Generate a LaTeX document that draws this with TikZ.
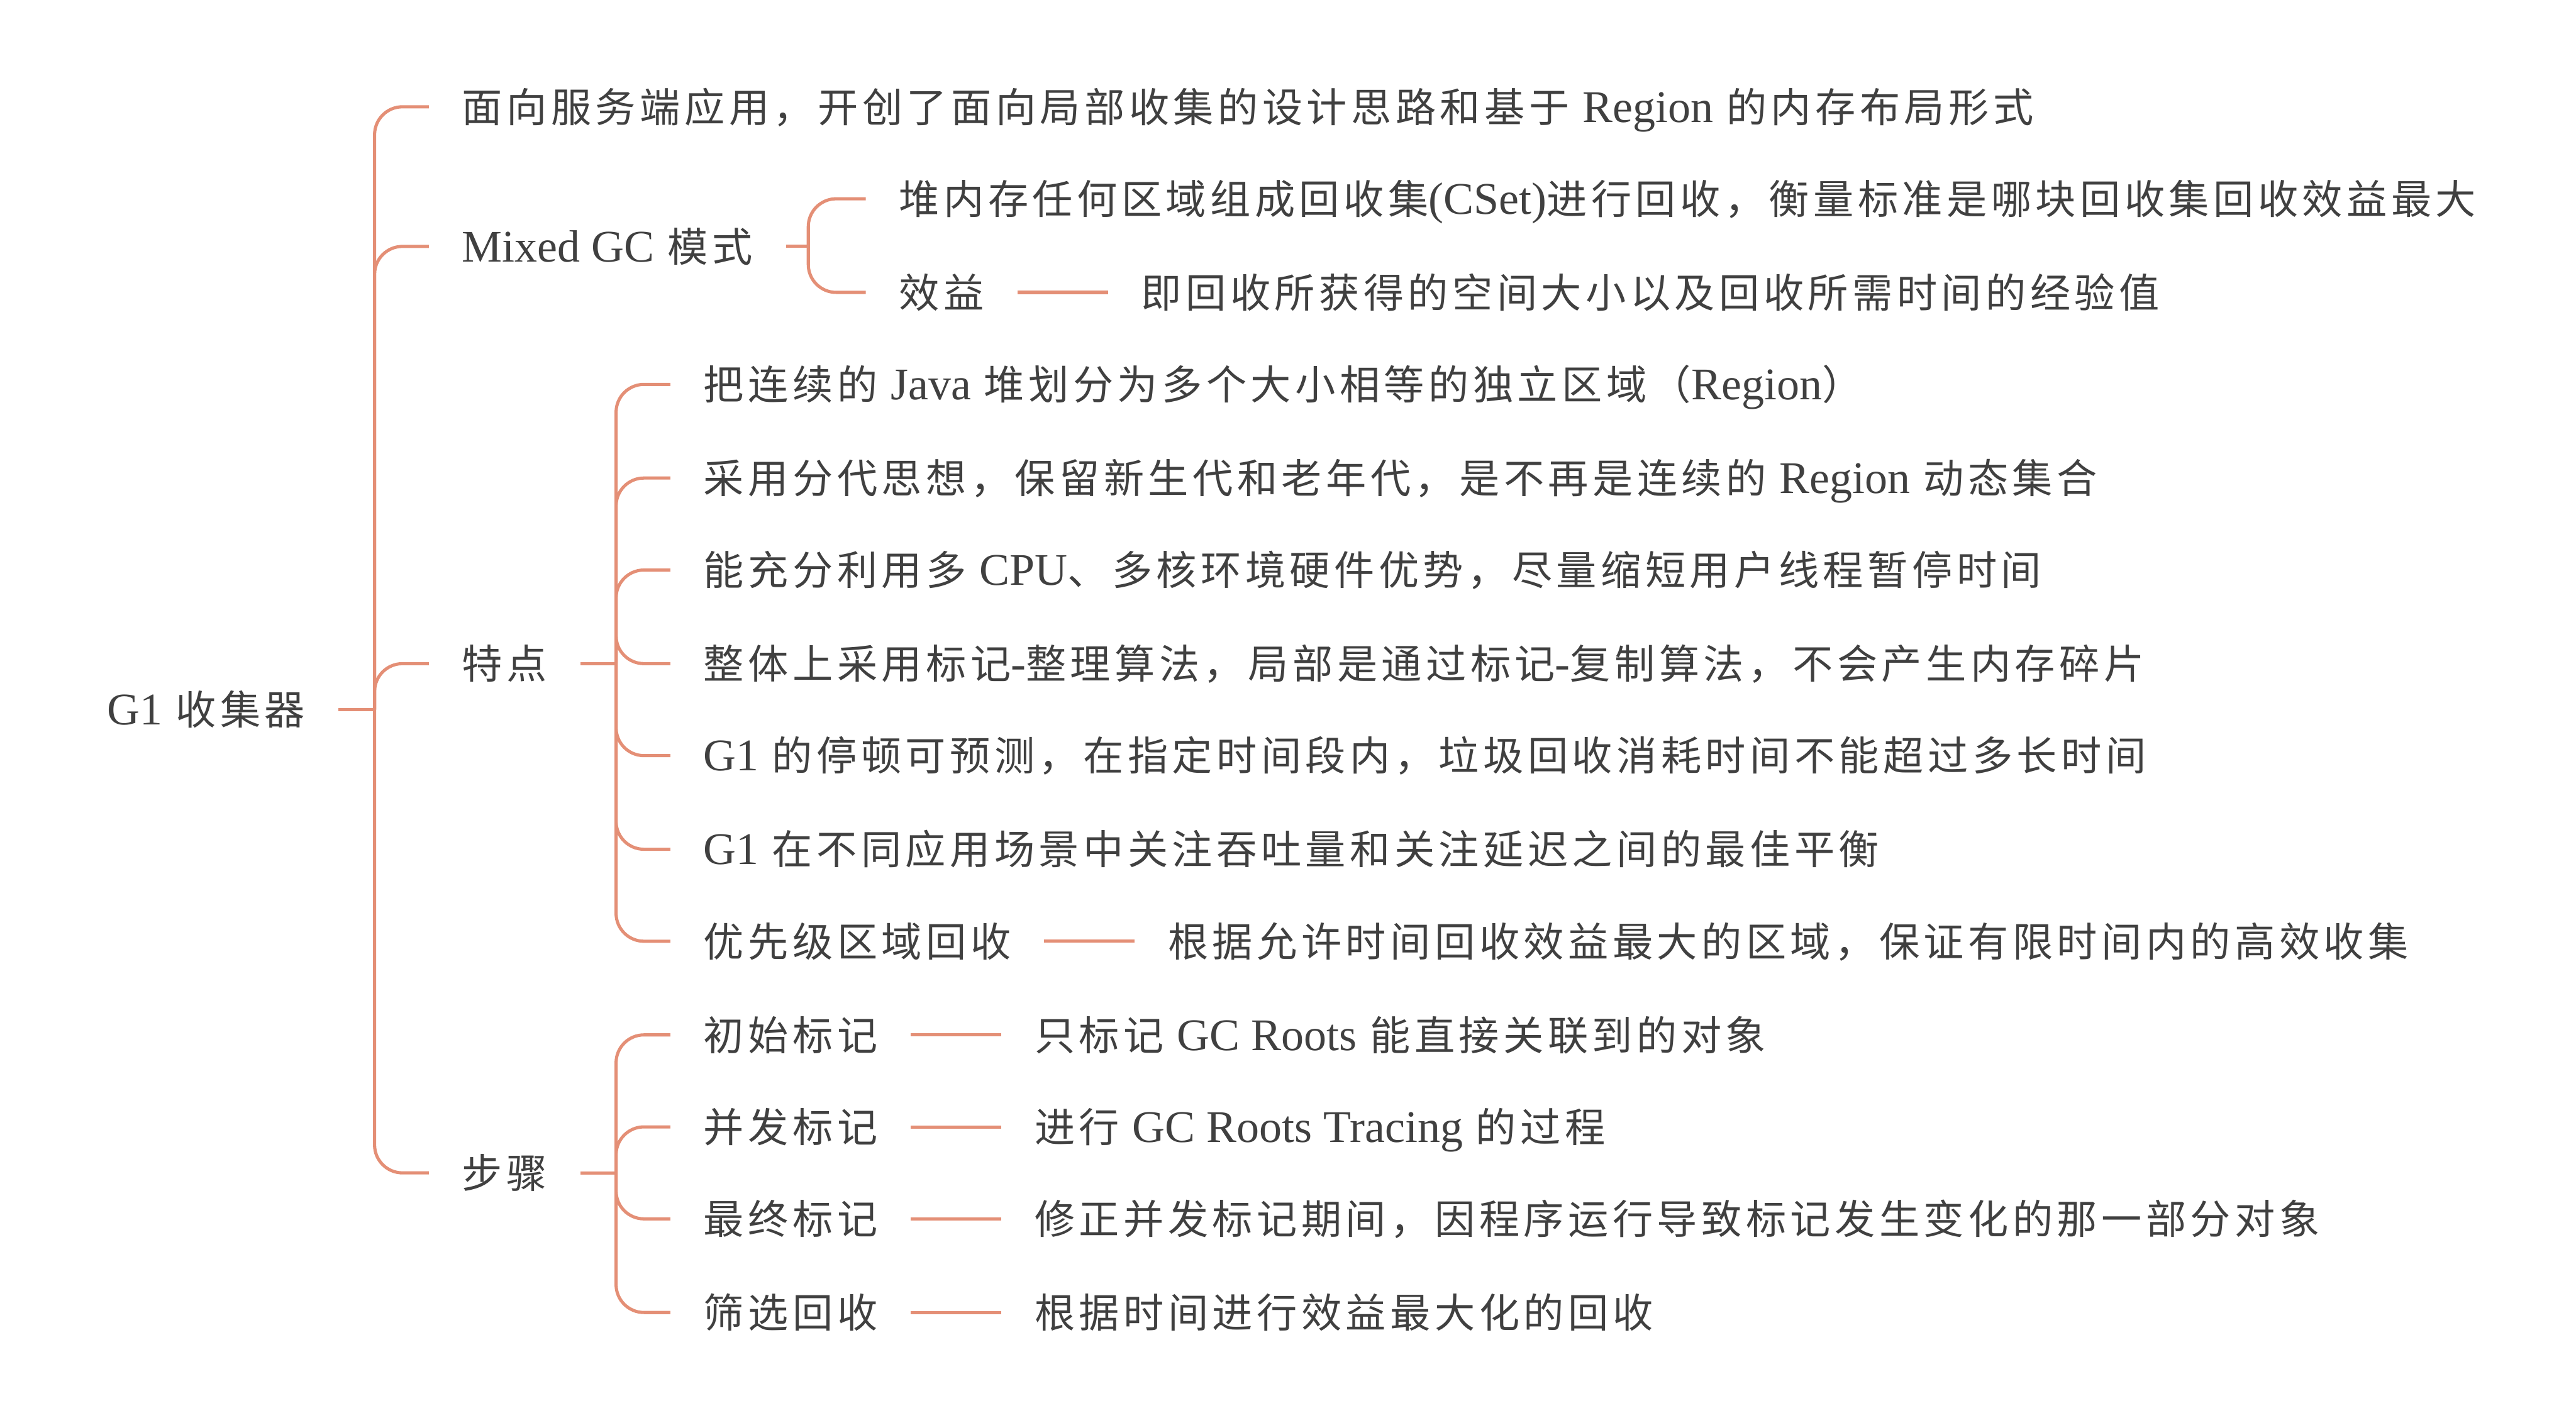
\documentclass[tikz,border=0pt]{standalone}
\usepackage{fontspec}
\setmainfont{Noto Sans CJK SC}[LetterSpace=10]
\newfontfamily\enfont{Liberation Serif}[Scale=1.12]
\newcommand{\en}[1]{{\enfont #1}}
\usetikzlibrary{positioning}

\definecolor{branchcol}{HTML}{E48F76}
\definecolor{textcol}{HTML}{404040}

\tikzset{
  topic/.style={anchor=west, inner xsep=0.4cm, inner ysep=0pt,
    text height=10.6pt, text depth=0pt, text=textcol,
    font=\fontsize{14pt}{17pt}\selectfont},
  branch/.style={draw=branchcol, line width=1.1pt, rounded corners=0.34cm},
  stub/.style={draw=branchcol, line width=1.1pt},
}

\begin{document}
\begin{tikzpicture}[x=0.02cm, y=-0.02cm]
\useasboundingbox (0,0) rectangle (1568,863);

% root and first level
\node[topic] (root) at (45,432) {\en{G1} 收集器};
\node[topic] (intro) at (261,65) {面向服务端应用，开创了面向局部收集的设计思路和基于 \en{Region} 的内存布局形式};
\node[topic] (mixed) at (261,150) {\en{Mixed GC} 模式};
\node[topic] (feat) at (261,404) {特点};
\node[topic] (steps) at (261,714) {步骤};

\coordinate (rootfork) at (228,432);
\draw[stub] (root.east) -- (rootfork);
\foreach \n in {intro,mixed,feat,steps}
  \draw[branch] (rootfork) |- (\n.west);

% Mixed GC
\node[topic] (m1) at (527,121) {堆内存任何区域组成回收集\en{(CSet)}进行回收，衡量标准是哪块回收集回收效益最大};
\node[topic] (m2) at (527,178) {效益};
\node[topic, right=1.1cm of m2] (m2leaf) {即回收所获得的空间大小以及回收所需时间的经验值};

\coordinate (mixfork) at (492,150);
\draw[stub] (mixed.east) -- (mixfork);
\foreach \n in {m1,m2}
  \draw[branch] (mixfork) |- (\n.west);
\draw[stub] (m2.east) -- (m2leaf.west);

% features
\foreach \n/\y/\txt in {
  f1/234/{把连续的 \en{Java} 堆划分为多个大小相等的独立区域（\en{Region}）},
  f2/291/{采用分代思想，保留新生代和老年代，是不再是连续的 \en{Region} 动态集合},
  f3/347/{能充分利用多 \en{CPU}、多核环境硬件优势，尽量缩短用户线程暂停时间},
  f4/404/{整体上采用标记\en{-}整理算法，局部是通过标记\en{-}复制算法，不会产生内存碎片},
  f5/460/{\en{G1} 的停顿可预测，在指定时间段内，垃圾回收消耗时间不能超过多长时间},
  f6/517/{\en{G1} 在不同应用场景中关注吞吐量和关注延迟之间的最佳平衡},
  f7/573/{优先级区域回收}}
  \node[topic] (\n) at (408,\y) {\txt};
\node[topic, right=1.1cm of f7] (f7leaf) {根据允许时间回收效益最大的区域，保证有限时间内的高效收集};

\coordinate (featfork) at (375,404);
\draw[stub] (feat.east) -- (featfork);
\foreach \n in {f1,f2,f3,f4,f5,f6,f7}
  \draw[branch] (featfork) |- (\n.west);
\draw[stub] (f7.east) -- (f7leaf.west);

% steps
\foreach \n/\y/\txt/\leaf in {
  s1/630/初始标记/{只标记 \en{GC Roots} 能直接关联到的对象},
  s2/686/并发标记/{进行 \en{GC Roots Tracing} 的过程},
  s3/742/最终标记/{修正并发标记期间，因程序运行导致标记发生变化的那一部分对象},
  s4/799/筛选回收/{根据时间进行效益最大化的回收}} {
  \node[topic] (\n) at (408,\y) {\txt};
  \node[topic, right=1.1cm of \n] (\n leaf) {\leaf};
  \draw[stub] (\n.east) -- (\n leaf.west);
}

\coordinate (stepfork) at (375,714);
\draw[stub] (steps.east) -- (stepfork);
\foreach \n in {s1,s2,s3,s4}
  \draw[branch] (stepfork) |- (\n.west);
\end{tikzpicture}
\end{document}
